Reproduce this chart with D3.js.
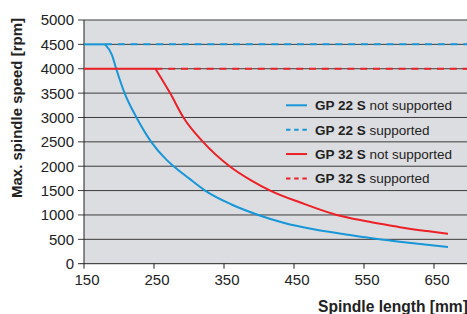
<!DOCTYPE html>
<html>
<head>
<meta charset="utf-8">
<script src="https://cdn.jsdelivr.net/npm/d3@7"></script>
<style>
	body { margin: 0; background: #fff; }
	svg { display: block; font-family: 'Liberation Sans', Arial, sans-serif; }
</style>
</head>
<body>
<svg id="speed-svg" width="467" height="314"></svg>
<script>
// spindle length [mm] / max speed [rpm]
const gp22Length = [150, 180, 190, 196, 208, 225, 246, 268, 278, 300, 323, 360, 399, 435, 480, 520, 572, 601, 640, 670];
const gp22Speed = [4500, 4500, 4280, 4000, 3500, 3000, 2500, 2130, 2000, 1750, 1500, 1220, 1000, 840, 700, 610, 500, 450, 390, 345];

const gp32Length = [150, 252, 273, 292, 320, 358, 390, 416, 460, 511, 550, 573, 601, 640, 670];
const gp32Speed = [4000, 4000, 3500, 3000, 2500, 2000, 1700, 1500, 1250, 1000, 880, 820, 750, 670, 615];

// supported: constant speed from the point where the curve leaves it
const gp22Supported = {from: 180, speed: 4500};
const gp32Supported = {from: 252, speed: 4000};

const xTicks = [150, 250, 350, 450, 550, 650];
const yTicks = [0, 500, 1000, 1500, 2000, 2500, 3000, 3500, 4000, 4500, 5000];

const legendItems = [
	{name: 'GP 22 S', text: ' not supported', color: '#1796d8', dash: null},
	{name: 'GP 22 S', text: ' supported', color: '#1796d8', dash: '4.4,3.8'},
	{name: 'GP 32 S', text: ' not supported', color: '#ec2027', dash: null},
	{name: 'GP 32 S', text: ' supported', color: '#ec2027', dash: '4.4,3.8'}
];

const svg = d3.select('#speed-svg');
const plotLeft = 84, plotTop = 20, plotBottom = 263.7, plotRight = 467;

const x = d3.scaleLinear().domain([150, 150 + (plotRight - plotLeft) / 0.7]).range([plotLeft, plotRight]);
const y = d3.scaleLinear().domain([0, 5000]).range([plotBottom, plotTop]);

svg.append('rect')
	.attr('x', plotLeft).attr('y', plotTop)
	.attr('width', plotRight - plotLeft).attr('height', plotBottom - plotTop)
	.style('fill', '#dcdde0');

// gridlines with the y ticks sticking out on the left
svg.append('g')
	.selectAll('line')
	.data(yTicks)
	.enter().append('line')
	.attr('x1', plotLeft - 6).attr('x2', plotRight)
	.attr('y1', (d) => { return y(d); })
	.attr('y2', (d) => { return y(d); })
	.style('stroke', (d) => { return d === 0 ? '#222' : '#3c3c3c'; })
	.style('stroke-width', 1);

svg.append('g')
	.selectAll('text')
	.data(yTicks)
	.enter().append('text')
	.attr('x', 74)
	.attr('y', (d) => { return y(d); })
	.attr('dy', '0.36em')
	.attr('text-anchor', 'end')
	.style('font-size', '15px')
	.style('fill', '#222')
	.text((d) => { return d; });

svg.append('line')
	.attr('x1', plotLeft).attr('x2', plotLeft)
	.attr('y1', plotTop).attr('y2', plotBottom)
	.style('stroke', '#222');

const xAxis = svg.append('g');
xAxis.selectAll('line')
	.data(xTicks)
	.enter().append('line')
	.attr('x1', (d) => { return x(d); })
	.attr('x2', (d) => { return x(d); })
	.attr('y1', plotBottom).attr('y2', plotBottom + 5)
	.style('stroke', '#222');

xAxis.selectAll('text')
	.data(xTicks)
	.enter().append('text')
	.attr('x', (d) => { return x(d) + 3; })
	.attr('y', 285)
	.attr('text-anchor', 'middle')
	.style('font-size', '15px')
	.style('fill', '#222')
	.text((d) => { return d; });

// curves: flat part straight, then a smooth drop with a sharp corner between
const line = d3.line()
	.x((d) => { return x(d[0]); })
	.y((d) => { return y(d[1]); })
	.curve(d3.curveMonotoneX);

const straight = d3.line()
	.x((d) => { return x(d[0]); })
	.y((d) => { return y(d[1]); });

function drawSupported(s, color) {
	svg.append('line')
		.attr('x1', x(s.from)).attr('x2', plotRight)
		.attr('y1', y(s.speed)).attr('y2', y(s.speed))
		.style('stroke', color)
		.style('stroke-width', 2)
		.style('stroke-dasharray', '7,5.8');
}

function drawCurve(lengths, speeds, color) {
	const pts = d3.zip(lengths, speeds);
	const g = svg.append('g')
		.style('fill', 'none')
		.style('stroke', color)
		.style('stroke-width', 2)
		.style('stroke-linejoin', 'round');

	g.append('path').attr('d', straight(pts.slice(0, 2)));
	g.append('path').attr('d', line(pts.slice(1)));
}

drawSupported(gp22Supported, legendItems[1].color);
drawSupported(gp32Supported, legendItems[3].color);

drawCurve(gp22Length, gp22Speed, legendItems[0].color);
drawCurve(gp32Length, gp32Speed, legendItems[2].color);

// legend, one row between each pair of gridlines
const legend = svg.append('g')
	.selectAll('g')
	.data(legendItems)
	.enter().append('g')
	.attr('transform', (d, i) => { return 'translate(286, ' + (y(3250 - 500 * i)) + ')'; });

legend.append('line')
	.attr('x1', 0).attr('x2', 21)
	.style('stroke', (d) => { return d.color; })
	.style('stroke-width', 2)
	.style('stroke-dasharray', (d) => { return d.dash; });

const legendText = legend.append('text')
	.attr('x', 29)
	.attr('dy', '0.36em')
	.style('font-size', '13.5px')
	.style('fill', '#222');

legendText.append('tspan')
	.style('font-weight', 'bold')
	.text((d) => { return d.name; });

legendText.append('tspan')
	.text((d) => { return d.text; });

// axis titles
svg.append('text')
	.attr('transform', 'translate(22, 108) rotate(-90)')
	.attr('text-anchor', 'middle')
	.style('font-size', '15px')
	.style('font-weight', 'bold')
	.style('fill', '#222')
	.text('Max. spindle speed [rpm]');

svg.append('text')
	.attr('x', 318)
	.attr('y', 312)
	.style('font-size', '15.6px')
	.style('font-weight', 'bold')
	.style('fill', '#222')
	.text('Spindle length [mm]');
</script>
</body>
</html>
